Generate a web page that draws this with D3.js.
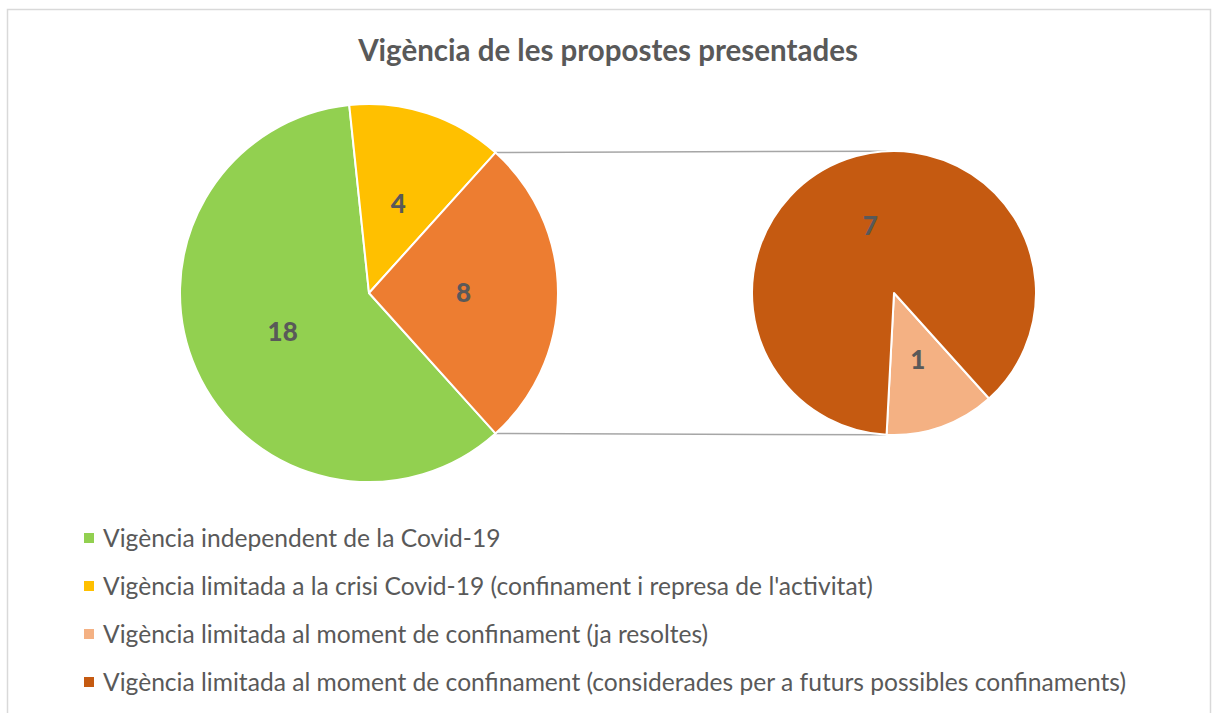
<!DOCTYPE html>
<html>
<head>
<meta charset="utf-8">
<script src="https://cdn.jsdelivr.net/npm/d3@7"></script>
<style>
  body { margin: 0; background: #fff; }
  svg { display: block; font-family: Lato, "Open Sans", sans-serif; }
</style>
</head>
<body>
<svg id="chart" width="1214" height="713"></svg>
<script>
// data
var title = "Vigència de les propostes presentades";
var mainLabels = ["Vigència independent de la Covid-19",
                  "Vigència limitada a la crisi Covid-19 (confinament i represa de l'activitat)"];
var mainValues = [18, 4];
var subLabels = ["Vigència limitada al moment de confinament (ja resoltes)",
                 "Vigència limitada al moment de confinament (considerades per a futurs possibles confinaments)"];
var subValues = [1, 7];
var colors = ["#92D050", "#FFC000", "#F4B183", "#C55A11"];
var otherColor = "#ED7D31";

var W = 1214, H = 713;
var svg = d3.select("#chart");

// outer chart border
svg.append("rect")
    .attr("x", 7.5).attr("y", 9.5)
    .attr("width", 1203).attr("height", 720)
    .attr("fill", "none")
    .attr("stroke", "#d9d9d9")
    .attr("stroke-width", 1.5);

svg.append("text")
    .attr("x", 608).attr("y", 61)
    .attr("text-anchor", "middle")
    .style("font-size", "29.5px")
    .style("font-weight", "bold")
    .style("fill", "#595959")
    .text(title);

var otherTotal = d3.sum(subValues);
var total = d3.sum(mainValues) + otherTotal;
// the "other" slice faces right (90deg), so the first slice starts after it
var start = (90 + otherTotal / total * 180) * Math.PI / 180;

var main = {cx: 369, cy: 293, r: 189};
var sub  = {cx: 894, cy: 293, r: 142};

var mainData = mainValues.map(function(v, i){ return {value: v, color: colors[i]}; });
mainData.push({value: otherTotal, color: otherColor});
var subData = subValues.map(function(v, i){ return {value: v, color: colors[i + 2]}; });

var pie = d3.pie().sort(null).value(function(d){ return d.value; })
    .startAngle(start).endAngle(start + 2 * Math.PI);

function drawPie(data, c) {
  var arcs = pie(data);
  var arc = d3.arc().innerRadius(0).outerRadius(c.r);
  var lab = d3.arc().innerRadius(c.r * 0.5).outerRadius(c.r * 0.5);
  var g = svg.append("g").attr("transform", "translate(" + c.cx + "," + c.cy + ")");
  g.selectAll("path")
      .data(arcs)
      .enter().append("path")
      .attr("d", arc)
      .attr("fill", function(d){ return d.data.color; })
      .attr("stroke", "#fff")
      .attr("stroke-width", 2)
      .attr("stroke-linejoin", "round");
  g.selectAll("text")
      .data(arcs)
      .enter().append("text")
      .attr("transform", function(d){ return "translate(" + lab.centroid(d) + ")"; })
      .attr("text-anchor", "middle")
      .attr("dy", "0.36em")
      .style("font-size", "26px")
      .style("font-weight", "900")
      .style("fill", "#595959")
      .text(function(d){ return d.data.value; });
  return arcs;
}

// connector lines from the "other" slice to the second pie
var mainArcs = pie(mainData);
var other = mainArcs[mainArcs.length - 1];
function pt(c, a, r) { return [c.cx + r * Math.sin(a), c.cy - r * Math.cos(a)]; }
var subArcs = pie(subData);
var a2 = subArcs[0].endAngle; // light slice ends near the bottom
var links = [
  [pt(main, other.startAngle, main.r), pt(sub, Math.PI - a2, sub.r)],
  [pt(main, other.endAngle, main.r), pt(sub, a2, sub.r)]
];
svg.selectAll("line.link")
    .data(links)
    .enter().append("line")
    .attr("class", "link")
    .attr("x1", function(d){ return d[0][0]; })
    .attr("y1", function(d){ return d[0][1]; })
    .attr("x2", function(d){ return d[1][0]; })
    .attr("y2", function(d){ return d[1][1]; })
    .attr("stroke", "#a6a6a6")
    .attr("stroke-width", 1.5);

drawPie(mainData, main);
drawPie(subData, sub);

// legend
var legendItems = mainLabels.concat(subLabels).map(function(l, i){ return {label: l, color: colors[i]}; });
var lg = svg.append("g").attr("transform", "translate(84,538)");
var row = lg.selectAll("g")
    .data(legendItems)
    .enter().append("g")
    .attr("transform", function(d, i){ return "translate(0," + (i * 48) + ")"; });
row.append("rect")
    .attr("x", 0).attr("y", -5)
    .attr("width", 10).attr("height", 10)
    .attr("fill", function(d){ return d.color; });
row.append("text")
    .attr("x", 19).attr("dy", "0.36em")
    .style("font-size", "24.6px")
    .style("fill", "#595959")
    .text(function(d){ return d.label; });
</script>
</body>
</html>
